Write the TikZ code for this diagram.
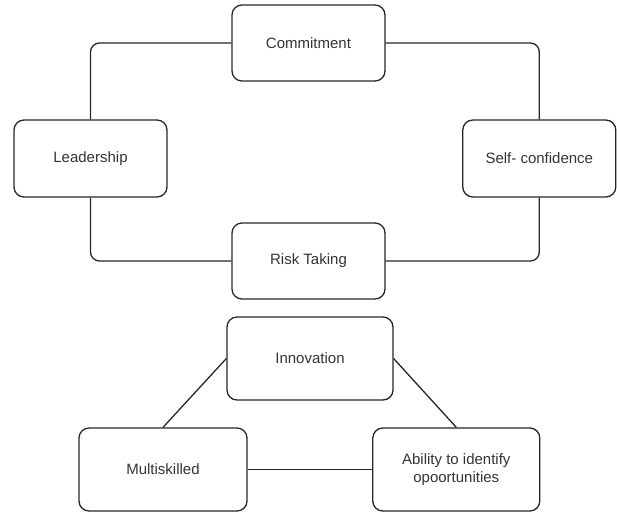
\documentclass[tikz,border=0pt]{standalone}
\usepackage{fontspec}
\setmainfont{Liberation Sans}
\begin{document}
\begin{tikzpicture}[x=1pt,y=-1pt,
  box/.style={draw=black!85, line width=1.3pt, rounded corners=10pt, inner sep=0pt,
    align=center, font=\fontsize{15}{17.5}\selectfont, text=black!80},
  link/.style={draw=black!85, line width=1.3pt, rounded corners=9pt}]
\useasboundingbox (0,0) rectangle (617,512);
\node[box, minimum width=153pt, minimum height=76pt] (commit) at (308.5,43) {Commitment};
\node[box, minimum width=153pt, minimum height=77pt] (lead) at (90.5,158.5) {Leadership};
\node[box, minimum width=153pt, minimum height=77pt] (self) at (539.3,158.5) {Self- confidence};
\node[box, minimum width=153pt, minimum height=76pt] (risk) at (308.5,261) {Risk Taking};
\node[box, minimum width=166pt, minimum height=83pt] (innov) at (310,358.5) {Innovation};
\node[box, minimum width=168pt, minimum height=83pt] (multi) at (163,469.5) {Multiskilled};
\node[box, minimum width=167pt, minimum height=83pt] (ability) at (456.3,469.5) {Ability to identify\\opoortunities};
\draw[link] (commit.west) -| (lead.north);
\draw[link] (commit.east) -| (self.north);
\draw[link] (lead.south) |- (risk.west);
\draw[link] (self.south) |- (risk.east);
\draw[link] (innov.west) -- (multi.north);
\draw[link] (innov.east) -- (ability.north);
\draw[link] (multi.east) -- (ability.west);
\end{tikzpicture}
\end{document}
